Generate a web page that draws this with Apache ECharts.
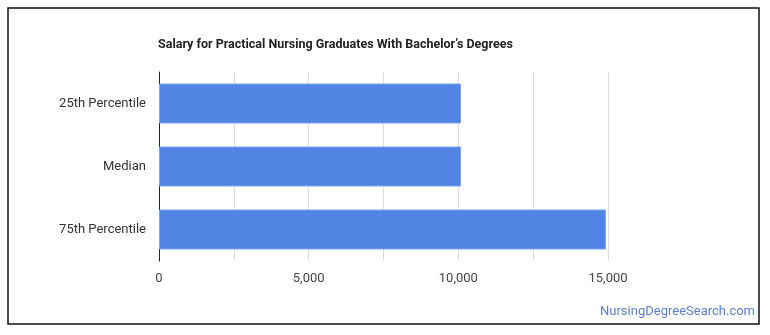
<!DOCTYPE html>
<html><head><meta charset="utf-8">
<script src="https://cdn.jsdelivr.net/npm/echarts@6/dist/echarts.min.js"></script>
<style>html,body{margin:0;padding:0;background:#fff}#c{width:770px;height:335px}</style>
</head><body><div id="c"></div>
<script>
const categories = ["25th Percentile", "Median", "75th Percentile"];
const values = [10090, 10090, 14930];
const xTicks = [0, 5000, 10000, 15000];

const chart = echarts.init(document.getElementById('c'), null, {renderer: 'canvas'});
chart.setOption({
  animation: false,
  backgroundColor: '#fff',
  graphic: [
    {type: 'rect', shape: {x: 8, y: 8, width: 751, height: 316}, style: {fill: 'none', stroke: '#111', lineWidth: 1.5}},
    {type: 'text', left: 158, top: 38, style: {text: 'Salary for Practical Nursing Graduates With Bachelor\u2019s Degrees', font: 'bold 12.5px Roboto', fill: '#222'}},
    {type: 'text', right: 15, top: 305, style: {text: 'NursingDegreeSearch.com', font: '13px Roboto', fill: '#5b80c9'}}
  ],
  grid: {left: 159, top: 72, width: 449, height: 189, containLabel: false},
  xAxis: {
    type: 'value', min: 0, max: 15000, interval: 2500,
    axisLine: {show: false}, axisTick: {show: false},
    splitLine: {show: true, lineStyle: {color: '#dcdcdc', width: 1}},
    axisLabel: {
      margin: 11, color: '#444', fontSize: 13, fontFamily: 'Roboto',
      formatter: v => xTicks.includes(v) ? v.toLocaleString('en-US') : ''
    }
  },
  yAxis: {
    type: 'category', data: categories, inverse: true,
    axisLine: {show: true, lineStyle: {color: '#222', width: 1}},
    axisTick: {show: false},
    axisLabel: {margin: 13, color: '#333', fontSize: 13, fontFamily: 'Roboto'}
  },
  series: [{
    type: 'bar', data: values, barWidth: 40,
    itemStyle: {color: '#5285e3', borderColor: '#7aa3ec', borderWidth: 1}
  }]
});
</script></body></html>
